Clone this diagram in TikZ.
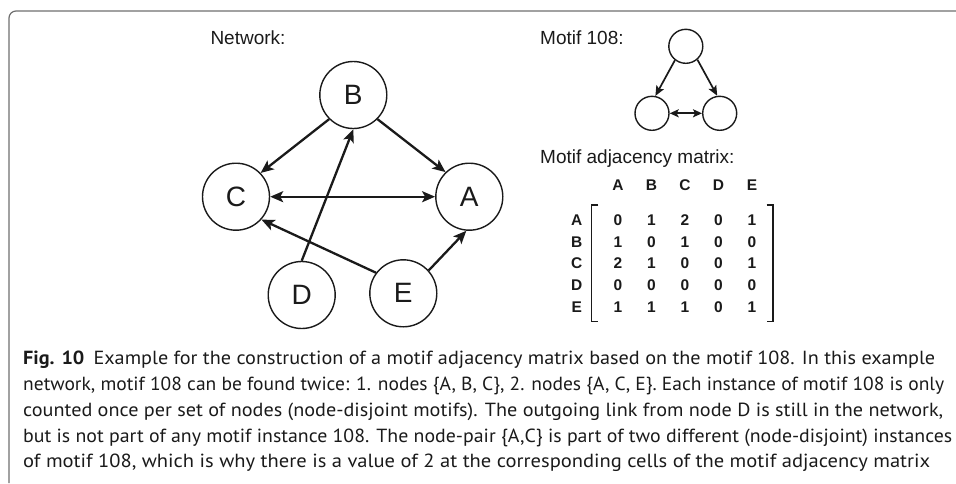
\documentclass[tikz,border=0pt]{standalone}
\usepackage{fontspec}
\setmainfont{Liberation Sans}
\newfontfamily\capfont{PT Sans}
\usetikzlibrary{arrows.meta}
\definecolor{ink}{HTML}{1A1A1A}
\definecolor{framegray}{HTML}{6E6E6E}
\begin{document}
\begin{tikzpicture}[x=1pt,y=-1pt,
  netnode/.style={circle,draw=ink,line width=1.4pt,minimum size=67pt,inner sep=0pt,
    text=ink,font=\fontsize{28}{28}\selectfont},
  motnode/.style={circle,draw=ink,line width=1.4pt,minimum size=34pt,inner sep=0pt},
  netedge/.style={draw=ink,line width=2.3pt,-{Stealth[length=13pt,width=11pt,inset=3pt]}},
  netboth/.style={draw=ink,line width=2.3pt,{Stealth[length=13pt,width=11pt,inset=3pt]}-{Stealth[length=13pt,width=11pt,inset=3pt]}},
  motedge/.style={draw=ink,line width=1.7pt,-{Stealth[length=10pt,width=8.5pt,inset=2pt]}},
  motboth/.style={draw=ink,line width=2pt,{Stealth[length=9pt,width=8pt,inset=2pt]}-{Stealth[length=9pt,width=8pt,inset=2pt]}},
  label/.style={inner sep=0pt,text=ink,font=\fontsize{19}{19}\selectfont},
  cell/.style={inner sep=0pt,text=ink,font=\fontsize{15.5}{15.5}\selectfont\bfseries},
  bracket/.style={draw=ink,line width=1.4pt},
  capline/.style={anchor=base west,inner sep=0pt,text=ink,font=\capfont\fontsize{19}{19}\selectfont},
  frameline/.style={draw=framegray,line width=1.2pt,rounded corners=7pt}
]
\useasboundingbox (0,0) rectangle (956,483);

% frame
\draw[frameline] (956,11) -- (9,11) -- (9,483);

% titles
\node[label,anchor=base] (nettitle) at (248,44.7) {Network:};
\node[label,anchor=base west] (mottitle) at (540,44.7) {Motif 108:};
\node[label,anchor=base west] (mattitle) at (540,163.4) {Motif adjacency matrix:};

% network
\node[netnode] (B) at (353.3,95) {B};
\node[netnode] (C) at (236,196.7) {C};
\node[netnode] (A) at (469.3,196.7) {A};
\node[netnode] (D) at (301.7,295) {D};
\node[netnode] (E) at (403.3,293.3) {E};

\draw[netedge] (B.225) -- (C.44);
\draw[netedge] (B.-45) -- (A.134);
\draw[netboth] (C.east) -- (A.west);
\draw[netedge] (D.north) -- (B.south);
\draw[netedge] (E.143) -- (C.-42);
\draw[netedge] (E.42) -- (A.265);

% motif
\node[motnode] (T) at (685.8,46.3) {};
\node[motnode] (L) at (652,113.3) {};
\node[motnode] (R) at (719.7,113.3) {};
\draw[motedge] (T.232) -- (L.79);
\draw[motedge] (T.311) -- (R.98);
\draw[motboth] (L.east) -- (R.west);

% matrix headers
\foreach \n/\x in {A/618,B/651.5,C/685,D/718.5,E/752}{
  \node[cell] (h\n) at (\x,185) {\n};
}
\foreach \n/\y in {A/220,B/241.7,C/263.3,D/285,E/306.7}{
  \node[cell] (r\n) at (576.7,\y) {\n};
}
% matrix values
\foreach \row/\y/\vals in {A/220/{0,1,2,0,1},B/241.7/{1,0,1,0,0},C/263.3/{2,1,0,0,1},D/285/{0,0,0,0,0},E/306.7/{1,1,1,0,1}}{
  \foreach \v [count=\i] in \vals {
    \pgfmathsetmacro{\xx}{618+33.5*(\i-1)}
    \node[cell] (m\row\i) at (\xx,\y) {\v};
  }
}
% brackets
\coordinate (lbt) at (598.3,205);
\coordinate (lbb) at (598.3,321.7);
\coordinate (rbt) at (766.5,205);
\coordinate (rbb) at (766.5,321.7);
\draw[bracket] (lbt) -- ++(-6.6,0) |- (lbb);
\draw[bracket] (rbt) -- ++(6.6,0) |- (rbb);

% caption
\node[capline] (cap1) at (23,364.6) {\resizebox{912pt}{\height}{\textbf{Fig. 10}\hspace{0.45em}Example for the construction of a motif adjacency matrix based on the motif 108. In this example}};
\node[capline] (cap2) at (23,390.4) {\resizebox{921pt}{\height}{network, motif 108 can be found twice: 1. nodes \{A, B, C\}, 2. nodes \{A, C, E\}. Each instance of motif 108 is only}};
\node[capline] (cap3) at (23,416.2) {\resizebox{920pt}{\height}{counted once per set of nodes (node-disjoint motifs). The outgoing link from node D is still in the network,}};
\node[capline] (cap4) at (23,442) {\resizebox{929pt}{\height}{but is not part of any motif instance 108. The node-pair \{A,C\} is part of two different (node-disjoint) instances}};
\node[capline] (cap5) at (23,467.8) {\resizebox{907pt}{\height}{of motif 108, which is why there is a value of 2 at the corresponding cells of the motif adjacency matrix}};
\end{tikzpicture}
\end{document}
